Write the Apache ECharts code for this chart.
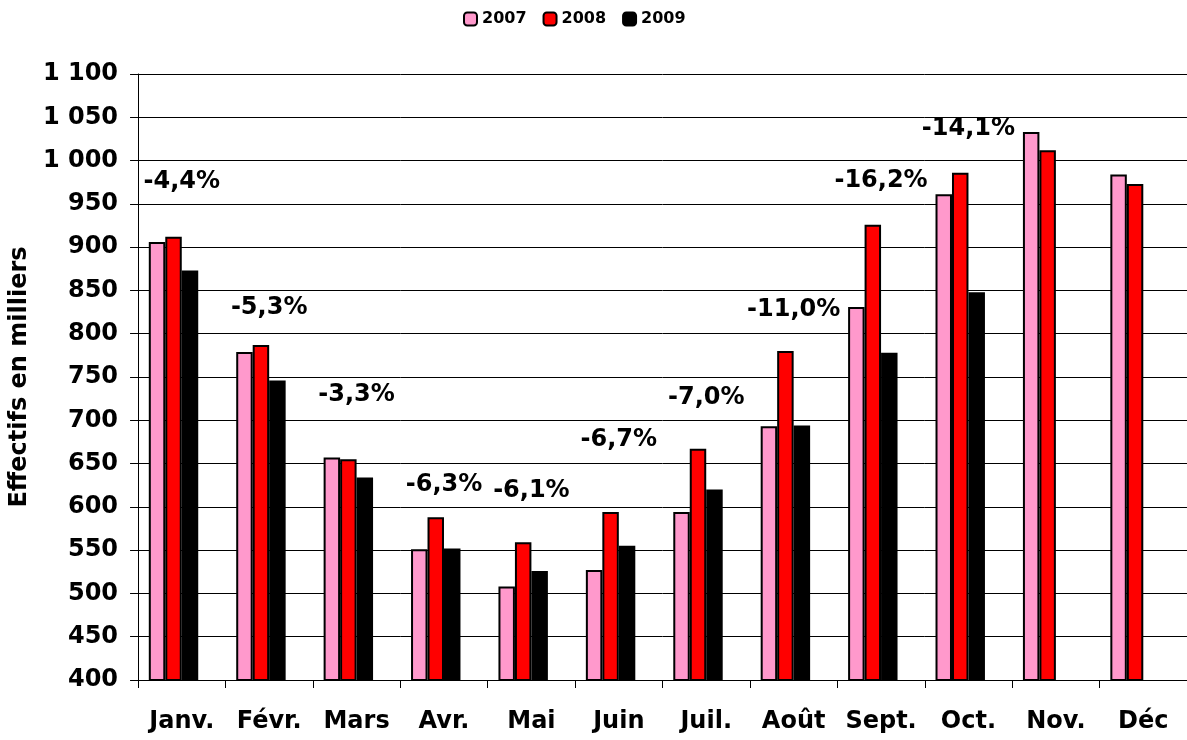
<!DOCTYPE html>
<html>
<head>
<meta charset="utf-8">
<script src="https://cdn.jsdelivr.net/npm/echarts@6/dist/echarts.min.js"></script>
<style>
	html, body { margin: 0; padding: 0; background: #fff; }
	#main { width: 1187px; height: 740px; }
</style>
</head>
<body>
<div id="main"></div>
<script>
	var months = ['Janv.', 'Févr.', 'Mars', 'Avr.', 'Mai', 'Juin', 'Juil.', 'Août', 'Sept.', 'Oct.', 'Nov.', 'Déc'];
	var y2007 = [906, 779, 657, 551, 508, 527, 594, 693, 831, 961, 1033, 984];
	var y2008 = [912, 787, 655, 588, 559, 594, 667, 780, 926, 986, 1012, 973];
	var y2009 = [873, 746, 634, 552, 526, 555, 620, 694, 778, 848, null, null];
	// variation labels and the height they sit at
	var pctText = ['-4,4%', '-5,3%', '-3,3%', '-6,3%', '-6,1%', '-6,7%', '-7,0%', '-11,0%', '-16,2%', '-14,1%', '', ''];
	var pctLevel = [976, 830, 729, 626, 619, 677, 726, 828, 977, 1037, null, null];
	var yTicks = { min: 400, max: 1100, step: 50 };

	var chart = echarts.init(document.getElementById('main'));
	var font = 'DejaVu Sans, Arial, sans-serif';
	var border = { borderColor: '#000', borderWidth: 2 };

	var option = {
		animation: false,
		textStyle: { fontFamily: font },
		legend: {
			top: 6,
			left: 458,
			itemWidth: 13,
			itemHeight: 13,
			itemGap: 16,
			data: ['2007', '2008', '2009'],
			textStyle: { fontSize: 16, fontWeight: 'bold', color: '#000', fontFamily: font }
		},
		grid: { left: 138, right: 0, top: 74, bottom: 60 },
		xAxis: {
			type: 'category',
			data: months,
			axisLine: { lineStyle: { color: '#000', width: 1 } },
			axisTick: { show: true, interval: 0, length: 8, lineStyle: { color: '#000' } },
			axisLabel: { interval: 0, fontSize: 24, fontWeight: 'bold', color: '#000', margin: 30, fontFamily: font }
		},
		yAxis: {
			type: 'value',
			min: yTicks.min,
			max: yTicks.max,
			interval: yTicks.step,
			name: 'Effectifs en milliers',
			nameLocation: 'middle',
			nameGap: 102,
			nameTextStyle: { fontSize: 24, fontWeight: 'bold', color: '#000', fontFamily: font },
			axisLine: { show: true, lineStyle: { color: '#000', width: 1 } },
			axisTick: { show: true, length: 8, lineStyle: { color: '#000' } },
			splitLine: { lineStyle: { color: '#000', width: 1 } },
			axisLabel: {
				fontSize: 24, fontWeight: 'bold', color: '#000', margin: 20, fontFamily: font,
				formatter: function (v) {
					return v >= 1000 ? Math.floor(v / 1000) + ' ' + String(v % 1000).padStart(3, '0') : String(v);
				}
			}
		},
		series: [
			{ name: '2007', type: 'bar', data: y2007, barGap: '0%', barCategoryGap: '24.6%',
				itemStyle: Object.assign({ color: '#FF99CC' }, border) },
			{ name: '2008', type: 'bar', data: y2008, barGap: '0%',
				itemStyle: Object.assign({ color: '#FF0000' }, border) },
			{ name: '2009', type: 'bar', data: y2009, barGap: '0%',
				itemStyle: Object.assign({ color: '#000000' }, border) },
			// empty slot so the group sits left in its category, as in the original
			{ name: 'spacer', type: 'bar', data: months.map(function () { return null; }), barGap: '0%', silent: true },
			{
				name: 'variation', type: 'scatter', data: pctLevel, symbolSize: 0, silent: true,
				itemStyle: { opacity: 1, color: '#000' },
				label: {
					show: true, position: 'inside', fontSize: 24, fontWeight: 'bold', color: '#000', fontFamily: font,
					opacity: 1, textBorderWidth: 0,
					formatter: function (p) { return pctText[p.dataIndex]; }
				}
			}
		]
	};
	chart.setOption(option);
</script>
</body>
</html>
